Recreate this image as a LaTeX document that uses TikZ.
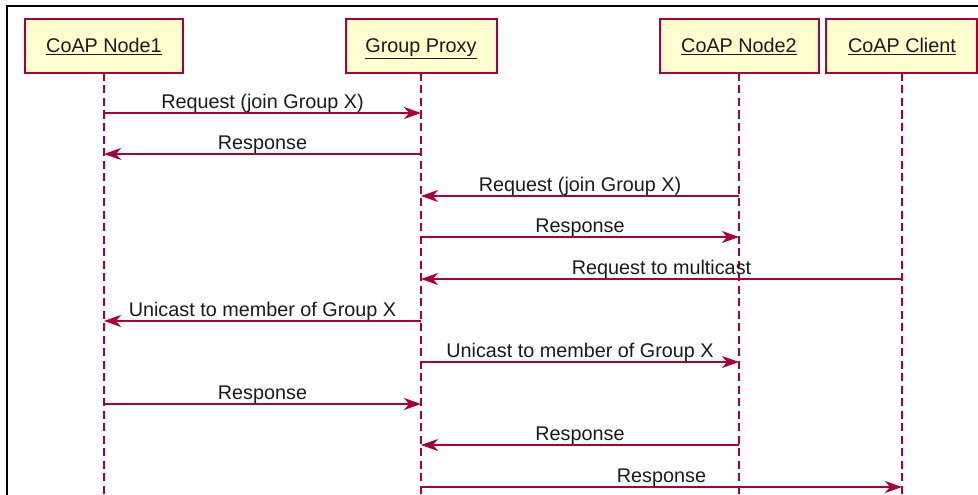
\documentclass[tikz,border=0pt]{standalone}
\usepackage{fontspec}
\setmainfont{Liberation Sans}
\usetikzlibrary{arrows.meta}
\definecolor{umlred}{HTML}{A80036}
\definecolor{umlfill}{HTML}{FEFECE}
\definecolor{umltext}{HTML}{1A1A1A}
\tikzset{
  x=1pt, y=-1pt,
  partbox/.style={draw=umlred, fill=umlfill, line width=1.4pt},
  parttext/.style={font=\fontsize{19.8}{22}\selectfont, text=umltext, inner sep=0pt, anchor=base},
  lifeline/.style={draw=umlred, line width=1.4pt, dash pattern=on 8pt off 4.5pt},
  msg/.style={draw=umlred, line width=1.4pt, -{Stealth[length=17pt,width=12pt,inset=5pt]}},
  msglabel/.style={font=\fontsize{19.8}{22}\selectfont, text=umltext, inner sep=0pt, anchor=base},
}
\begin{document}
\begin{tikzpicture}
\useasboundingbox (0,0) rectangle (978,495);
% frame
\draw[line width=2.8pt] (7,495) -- (7,6) -- (978,6);
% participant boxes
\path[partbox] (25,19) rectangle (183,73);
\path[partbox] (346,19) rectangle (497,73);
\path[partbox] (660,19) rectangle (819,73);
\path[partbox] (826,19) rectangle (977,73);
\node[parttext] (p1) at (104,53) {\underline{CoAP Node1}};
\node[parttext] (p2) at (421,53) {\underline{Group Proxy}};
\node[parttext] (p3) at (739,53) {\underline{CoAP Node2}};
\node[parttext] (p4) at (902,53) {\underline{CoAP Client}};
% lifeline coordinates
\foreach \n/\x in {A/104,B/421,C/739,D/902}{
  \coordinate (\n top) at (\x,73);
  \coordinate (\n bot) at (\x,495);
  \foreach \i/\y in {1/113,2/154,3/196,4/237,5/279,6/321,7/362,8/404,9/445,10/487}{
    \coordinate (\n\i) at (\x,\y);
  }
}
\foreach \n in {A,B,C,D}{ \draw[lifeline] (\n top) -- (\n bot); }
% messages
\newcommand{\umlmsg}[3]{%
  \draw[msg] (#1) -- (#2);
  \path (#1) -- (#2) node[msglabel, pos=0.5, yshift=5pt] {#3};
}
\umlmsg{A1}{B1}{Request (join Group X)}
\umlmsg{B2}{A2}{Response}
\umlmsg{C3}{B3}{Request (join Group X)}
\umlmsg{B4}{C4}{Response}
\umlmsg{D5}{B5}{Request to multicast}
\umlmsg{B6}{A6}{Unicast to member of Group X}
\umlmsg{B7}{C7}{Unicast to member of Group X}
\umlmsg{A8}{B8}{Response}
\umlmsg{C9}{B9}{Response}
\umlmsg{B10}{D10}{Response}
\end{tikzpicture}
\end{document}
